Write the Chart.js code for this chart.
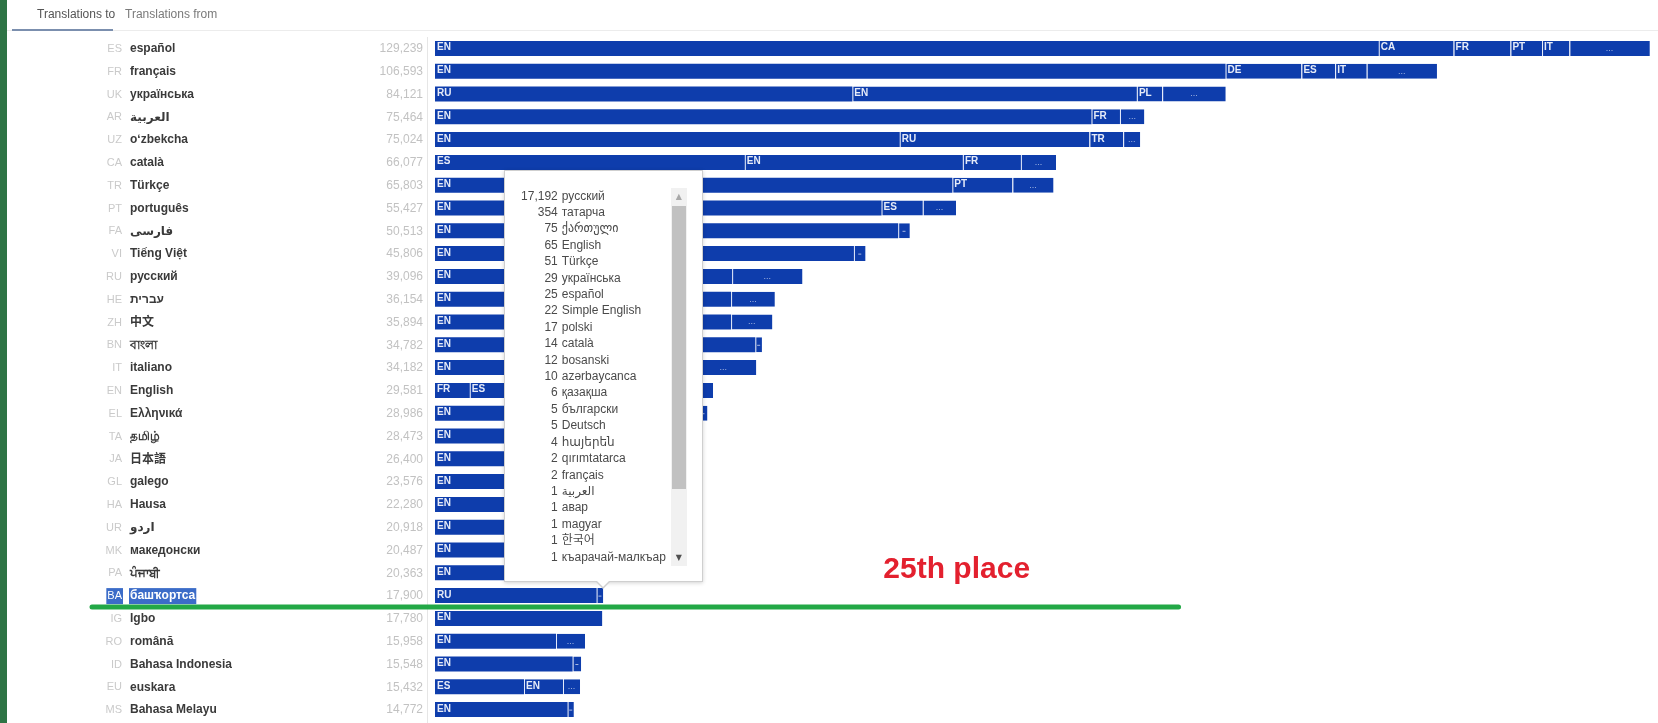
<!DOCTYPE html>
<html>
<head>
<meta charset="utf-8">
<script src="https://cdn.jsdelivr.net/npm/chart.js@4.4.1/dist/chart.umd.min.js"></script>
<style>
  html,body{margin:0;padding:0;background:#fff;}
  #wrap{position:relative;width:1658px;height:723px;overflow:hidden;background:#fff;}
  #cc{position:absolute;left:0;top:0;width:1658px;height:723px;}
  .strip{position:absolute;left:0;top:0;width:7px;height:723px;background:#2e7445;}
  .tab{position:absolute;top:6px;font:12px "Liberation Sans",Arial,sans-serif;line-height:16px;}
  #tip{position:absolute;width:197px;height:410px;border:1px solid #cfcfcf;background:#fff;box-shadow:0 1px 4px rgba(0,0,0,0.18);}
  #tiplist{position:absolute;left:0;top:17px;width:166px;height:378px;overflow:hidden;font:12px "Liberation Sans",Arial,"DejaVu Sans","Noto Sans CJK KR",sans-serif;color:#4a4a4a;line-height:16.4px;white-space:nowrap;}
  #tiplist .n{display:inline-block;width:53px;text-align:right;margin-right:4px;}
  #sb{position:absolute;left:166px;top:17px;width:16px;height:378px;background:#f1f1f1;}
  #sbup{position:absolute;left:0;top:0;width:16px;height:17px;color:#a8a8a8;font:8px "DejaVu Sans",sans-serif;text-align:center;line-height:17px;}
  #sbthumb{position:absolute;left:1px;top:18px;width:14px;height:283px;background:#c1c1c1;}
  #sbdown{position:absolute;left:0;bottom:0;width:16px;height:17px;color:#505050;font:8px "DejaVu Sans",sans-serif;text-align:center;line-height:17px;}
  #caretO{position:absolute;width:0;height:0;border-left:8px solid transparent;border-right:8px solid transparent;border-top:8px solid #cfcfcf;}
  #caretI{position:absolute;width:0;height:0;border-left:7px solid transparent;border-right:7px solid transparent;border-top:7px solid #fff;}
</style>
</head>
<body>
<div id="wrap">
  <div id="cc"><canvas id="c"></canvas></div>
  <div class="strip"></div>
  <div class="tab" style="left:37px;color:#555;">Translations to</div>
  <div class="tab" style="left:125px;color:#7a7a7a;">Translations from</div>
  <div style="position:absolute;left:7px;top:30px;width:1651px;height:1px;background:#ececec;"></div>
  <div style="position:absolute;left:12px;top:29px;width:101px;height:2px;background:#7b8fae;"></div>
  <div id="tip">
    <div id="tiplist"></div>
    <div id="sb"><div id="sbup">&#9650;</div><div id="sbthumb"></div><div id="sbdown">&#9660;</div></div>
    <div id="caretO"></div><div id="caretI"></div>
  </div>
</div>
<script>
// ---- data ----
const codes = ['ES','FR','UK','AR','UZ','CA','TR','PT','FA','VI','RU','HE','ZH','BN','IT','EN','EL','TA','JA','GL','HA','UR','MK','PA','BA','IG','RO','ID','EU','MS'];
const names = ['español','français','українська','العربية','oʻzbekcha','català','Türkçe','português','فارسی','Tiếng Việt','русский','עברית','中文','বাংলা','italiano','English','Ελληνικά','தமிழ்','日本語','galego','Hausa','اردو','македонски','ਪੰਜਾਬੀ','башҡортса','Igbo','română','Bahasa Indonesia','euskara','Bahasa Melayu'];
const totals = [129239,106593,84121,75464,75024,66077,65803,55427,50513,45806,39096,36154,35894,34782,34182,29581,28986,28473,26400,23576,22280,20918,20487,20363,17900,17780,15958,15548,15432,14772];

const seg1Vals  = [100400,84100,44400,69840,49440,32960,55036,47503,49275,44567,31609,31497,31497,34075,27126,3699,28026,27800,25000,22500,21900,20200,19600,19500,17192,17780,12872,14638,9468,14106];
const seg1Codes = ['EN','EN','RU','EN','EN','ES','EN','EN','EN','EN','EN','EN','EN','EN','EN','FR','EN','EN','EN','EN','EN','EN','EN','EN','RU','EN','EN','EN','ES','EN'];
const seg2Vals  = [7960,8070,30270,3030,20180,23200,6390,4394,0,0,0,0,0,0,0,9000,0,0,0,0,0,0,0,0,0,0,0,0,4149,0];
const seg2Codes = ['CA','DE','EN','FR','RU','EN','PT','ES','','','','','','','','ES','','','','','','','','','','','','','EN',''];
const seg3Vals  = [6050,3590,2690,0,3590,6170,0,0,0,0,0,0,0,0,0,0,0,0,0,0,0,0,0,0,0,0,0,0,0,0];
const seg3Codes = ['FR','ES','PL','','TR','FR','','','','','','','','','','','','','','','','','','','','','','','',''];
const seg4Vals  = [3360,3360,0,0,0,0,0,0,0,0,0,0,0,0,0,0,0,0,0,0,0,0,0,0,0,0,0,0,0,0];
const seg4Codes = ['PT','IT','','','','','','','','','','','','','','','','','','','','','','','','','','','',''];
const seg5Vals  = [2910,0,0,0,0,0,0,0,0,0,0,0,0,0,0,0,0,0,0,0,0,0,0,0,0,0,0,0,0,0];
const seg5Codes = ['IT','','','','','','','','','','','','','','','','','','','','','','','','','','','','',''];
const otherVals = [8559,7473,6761,2594,1814,3747,4377,3530,1238,1239,7487,4657,4397,707,7056,16882,960,673,1400,1076,380,718,887,863,708,0,3086,910,1815,666];

// tooltip list for башҡортса
const tipCounts = [17192,354,75,65,51,29,25,22,17,14,12,10,6,5,5,4,2,2,1,1,1,1,1];
const tipNames  = ['русский','татарча','ქართული','English','Türkçe','українська','español','Simple English','polski','català','bosanski','azərbaycanca','қазақша','български','Deutsch','հայերեն','qırımtatarca','français','العربية','авар','magyar','한국어','къарачай-малкъар'];

const highlightRow = 24;

// ---- build tooltip list ----
const list = document.getElementById('tiplist');
tipCounts.forEach((c, i) => {
  const row = document.createElement('div');
  const n = document.createElement('span'); n.className = 'n'; n.textContent = c.toLocaleString('en-US');
  const t = document.createElement('span'); t.textContent = tipNames[i];
  row.appendChild(n); row.appendChild(t); list.appendChild(row);
});

const BAR = '#0e3dac';
const segVals = [seg1Vals, seg2Vals, seg3Vals, seg4Vals, seg5Vals, otherVals];
const segCodes = [seg1Codes, seg2Codes, seg3Codes, seg4Codes, seg5Codes, null];

const datasets = segVals.map((v, i) => ({
  label: 'seg' + i,
  data: v,
  backgroundColor: BAR,
  borderColor: 'rgba(225,232,250,0.85)',
  borderWidth: i === 0 ? 0 : {left: 1, right: 0, top: 0, bottom: 0},
  borderSkipped: false,
  categoryPercentage: 1,
  barPercentage: 0.66
}));

const FONT = '"Liberation Sans", Arial, "DejaVu Sans", "Noto Sans CJK SC", sans-serif';

const labelPlugin = {
  id: 'labels',
  afterDatasetsDraw(chart) {
    const ctx = chart.ctx;
    ctx.save();
    segVals.forEach((vals, d) => {
      const meta = chart.getDatasetMeta(d);
      meta.data.forEach((el, i) => {
        if (!vals[i]) return;
        const left = Math.min(el.base, el.x), right = Math.max(el.base, el.x);
        const w = right - left;
        if (segCodes[d]) {
          const code = segCodes[d][i];
          if (code && w > 12) {
            ctx.font = 'bold 10px ' + FONT;
            ctx.fillStyle = '#e6ebf8';
            ctx.textAlign = 'left';
            ctx.textBaseline = 'alphabetic';
            ctx.fillText(code, left + 2, el.y + 2);
          }
        } else {
          ctx.fillStyle = 'rgba(205,215,240,0.8)';
          ctx.textAlign = 'center';
          ctx.textBaseline = 'middle';
          if (w > 12) {
            ctx.font = '9px ' + FONT;
            ctx.fillText('...', (left + right) / 2, el.y);
          } else {
            ctx.fillRect((left + right) / 2 - 1.5, el.y, 3, 1);
          }
        }
      });
    });
    ctx.restore();
  },
  afterDraw(chart) {
    const ctx = chart.ctx;
    const ys = chart.scales.y, xs = chart.scales.x;
    ctx.save();
    // separator
    ctx.strokeStyle = '#e6e6e6';
    ctx.lineWidth = 1;
    ctx.beginPath();
    ctx.moveTo(427.5, chart.chartArea.top);
    ctx.lineTo(427.5, chart.height);
    ctx.stroke();
    ctx.textBaseline = 'middle';
    codes.forEach((c, i) => {
      const y = ys.getPixelForValue(i) + 0.5;
      // code
      ctx.font = '11px ' + FONT;
      ctx.textAlign = 'right';
      if (i === highlightRow) {
        const cw = ctx.measureText(c).width;
        ctx.fillStyle = '#3b6cc8';
        ctx.fillRect(122 - cw - 1, y - 8, cw + 2, 16);
        ctx.fillStyle = '#ffffff';
      } else {
        ctx.fillStyle = '#cacaca';
      }
      ctx.fillText(c, 122, y);
      // name
      ctx.font = 'bold 12px ' + FONT;
      ctx.textAlign = 'left';
      if (i === highlightRow) {
        const nw = ctx.measureText(names[i]).width;
        ctx.fillStyle = '#3b6cc8';
        ctx.fillRect(129, y - 8, nw + 2, 16);
        ctx.fillStyle = '#ffffff';
      } else {
        ctx.fillStyle = '#3a3a3a';
      }
      ctx.fillText(names[i], 130, y);
      // total
      ctx.font = '12px ' + FONT;
      ctx.textAlign = 'right';
      ctx.fillStyle = '#c2c2c2';
      ctx.fillText(totals[i].toLocaleString('en-US'), 423, y);
    });
    // annotation: green line below the 25th row
    const lineY = (ys.getPixelForValue(highlightRow) + ys.getPixelForValue(highlightRow + 1)) / 2;
    ctx.strokeStyle = '#22a846';
    ctx.lineWidth = 5;
    ctx.lineCap = 'round';
    ctx.beginPath();
    ctx.moveTo(92, lineY);
    ctx.lineTo(xs.getPixelForValue(79100), lineY);
    ctx.stroke();
    // annotation text
    ctx.font = 'bold 30px ' + FONT;
    ctx.fillStyle = '#e3202e';
    ctx.textAlign = 'center';
    ctx.textBaseline = 'alphabetic';
    ctx.fillText('25th place', xs.getPixelForValue(55500), ys.getPixelForValue(highlightRow - 1) + 5);
    ctx.restore();

    // position tooltip box at the "others" segment of the highlighted row
    const el = chart.getDatasetMeta(segVals.length - 1).data[highlightRow];
    const p = el.tooltipPosition();
    const tip = document.getElementById('tip');
    const boxW = 199, boxH = 412;
    const left = p.x - boxW / 2;
    const top = p.y - 14 - boxH;
    tip.style.left = left + 'px';
    tip.style.top = top + 'px';
    const co = document.getElementById('caretO'), ci = document.getElementById('caretI');
    co.style.left = (p.x - left - 9) + 'px'; co.style.top = (boxH - 2) + 'px';
    ci.style.left = (p.x - left - 8) + 'px'; ci.style.top = (boxH - 3) + 'px';
  }
};

new Chart(document.getElementById('c'), {
  type: 'bar',
  data: { labels: codes, datasets },
  options: {
    indexAxis: 'y',
    responsive: true,
    maintainAspectRatio: false,
    animation: false,
    events: [],
    layout: { padding: { left: 435, right: 1, top: 37, bottom: 2 } },
    scales: {
      x: { stacked: true, min: 0, max: 130000, display: false },
      y: { stacked: true, display: false }
    },
    plugins: { legend: { display: false }, tooltip: { enabled: false } }
  },
  plugins: [labelPlugin]
});
</script>
</body>
</html>
